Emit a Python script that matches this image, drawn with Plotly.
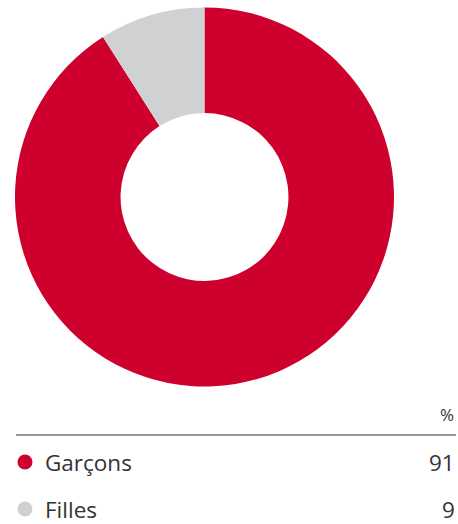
import plotly.graph_objects as go

labels = ["Garçons", "Filles"]
values = [91, 9]
colors = ["#CE002D", "#D0D1D3"]
header = "%"

W, H = 458, 524
cx, cy, R = 204.5, 197, 189.5
hole = 0.443

fig = go.Figure()
fig.add_trace(go.Pie(
    labels=labels, values=values, sort=False, direction="clockwise", rotation=0,
    hole=hole, marker=dict(colors=colors, line=dict(width=0)),
    textinfo="none", hoverinfo="label+percent", showlegend=False,
    domain=dict(x=[(cx - R) / W, (cx + R) / W], y=[1 - (cy + R) / H, 1 - (cy - R) / H]),
))

row_y = [462, 509]
fig.add_trace(go.Scatter(
    x=[25] * len(labels), y=row_y, mode="markers",
    marker=dict(size=15, color=colors, line=dict(width=0)),
    showlegend=False, hoverinfo="skip",
))

font = dict(family="Open Sans, Lato, sans-serif", color="#333333")
ann = [dict(x=456, y=414, xref="x", yref="y", text=header, showarrow=False,
            xanchor="right", yanchor="middle", font=dict(size=17, **font))]
for lab, val, yy in zip(labels, values, row_y):
    ann.append(dict(x=43, y=yy, xref="x", yref="y", text=lab, showarrow=False,
                    xanchor="left", yanchor="middle", font=dict(size=22.5, **font)))
    ann.append(dict(x=457, y=yy, xref="x", yref="y", text=str(val), showarrow=False,
                    xanchor="right", yanchor="middle", font=dict(size=22.5, **font)))

fig.update_layout(
    width=W, height=H, margin=dict(l=0, r=0, t=0, b=0),
    paper_bgcolor="white", plot_bgcolor="white",
    xaxis=dict(range=[0, W], visible=False, fixedrange=True, domain=[0, 1]),
    yaxis=dict(range=[H, 0], visible=False, fixedrange=True, domain=[0, 1]),
    annotations=ann,
    shapes=[dict(type="line", xref="x", yref="y", x0=16, x1=456, y0=435, y1=435,
                 line=dict(color="#333333", width=1))],
)

fig.write_html(
    "out.html",
    config={"displayModeBar": False},
    post_script="document.body.style.margin='0';document.body.style.overflow='hidden';",
)
